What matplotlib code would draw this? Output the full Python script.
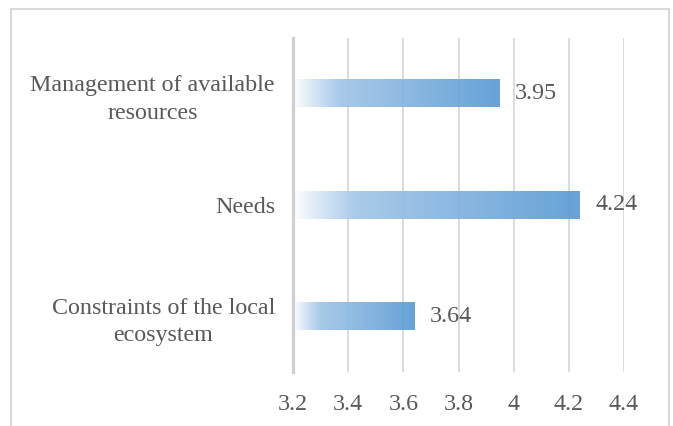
"""Horizontal bar chart of mean scores with gradient-filled bars."""
import numpy as np
from matplotlib import pyplot as plt
from matplotlib.colors import LinearSegmentedColormap
from matplotlib.lines import Line2D

# Categories listed bottom to top
categories = ['Constraints of the local\necosystem', 'Needs', 'Management of available\nresources']
scores = [3.64, 4.24, 3.95]
x_ticks = [3.2, 3.4, 3.6, 3.8, 4.0, 4.2, 4.4]
x_tick_labels = ['3.2', '3.4', '3.6', '3.8', '4', '4.2', '4.4']

TEXT_COLOR = '#595959'
GRID_COLOR = '#D9D9D9'
FONT = 'Liberation Serif'
FONTSIZE = 17.3
BAR_HEIGHT = 0.245

bar_cmap = LinearSegmentedColormap.from_list(
    'bar_fade',
    [(0.0, '#FFFFFF'), (0.08, '#DCE9F6'), (0.22, '#A3C6E8'), (1.0, '#5B9BD5')],
)

fig = plt.figure(figsize=(6.73, 4.26), dpi=100)
fig.patch.set_facecolor('white')
ax = fig.add_axes([0.4354, 0.1268, 0.4918, 0.784])

xmin, xmax = x_ticks[0], x_ticks[-1]
ypos = np.arange(len(categories))

# Invisible bars give the geometry, the gradient image fills each one
bars = ax.barh(ypos, [s - xmin for s in scores], left=xmin, height=BAR_HEIGHT,
               color='none', edgecolor='none', zorder=3)
gradient = np.linspace(0, 1, 256).reshape(1, -1)
for bar, score in zip(bars, scores):
    x0, y0 = bar.get_x(), bar.get_y()
    ax.imshow(gradient, cmap=bar_cmap, aspect='auto', alpha=0.93, zorder=3,
              extent=(x0, x0 + bar.get_width(), y0, y0 + bar.get_height()),
              interpolation='bicubic')
    ax.annotate(f'{score:g}', xy=(score, y0 + bar.get_height() / 2),
                xytext=(11, 0), textcoords='offset points',
                va='center', ha='left', fontsize=FONTSIZE, family=FONT,
                color=TEXT_COLOR)

ax.set_xlim(xmin, xmax)
ax.set_ylim(-0.5, len(categories) - 0.5)
ax.set_xticks(x_ticks)
ax.set_xticklabels(x_tick_labels)
ax.set_yticks(ypos)
ax.set_yticklabels(categories, multialignment='center', linespacing=1.4)
ax.tick_params(axis='x', length=0, pad=16)
ax.tick_params(axis='y', length=0, pad=13)
for lbl in ax.get_xticklabels() + ax.get_yticklabels():
    lbl.set_fontfamily(FONT)
    lbl.set_fontsize(FONTSIZE)
    lbl.set_color(TEXT_COLOR)

ax.xaxis.grid(True, color=GRID_COLOR, linewidth=1.3, zorder=1)
ax.set_axisbelow(True)
for side in ['top', 'right', 'bottom']:
    ax.spines[side].set_visible(False)
ax.spines['left'].set_color('#D0D0D0')
ax.spines['left'].set_linewidth(2.3)
ax.spines['left'].set_zorder(4)

# Light frame around the chart area (open at the bottom)
W, H = 673.0, 426.0
left, right, top = 11.5 / W, 668.5 / W, 1 - 8.5 / H
frame_kw = dict(color=GRID_COLOR, linewidth=1.5, transform=fig.transFigure)
fig.add_artist(Line2D([left, left], [0, top], **frame_kw))
fig.add_artist(Line2D([left, right], [top, top], **frame_kw))
fig.add_artist(Line2D([right, right], [0, top], **frame_kw))

fig.savefig('out.png', dpi=100)
